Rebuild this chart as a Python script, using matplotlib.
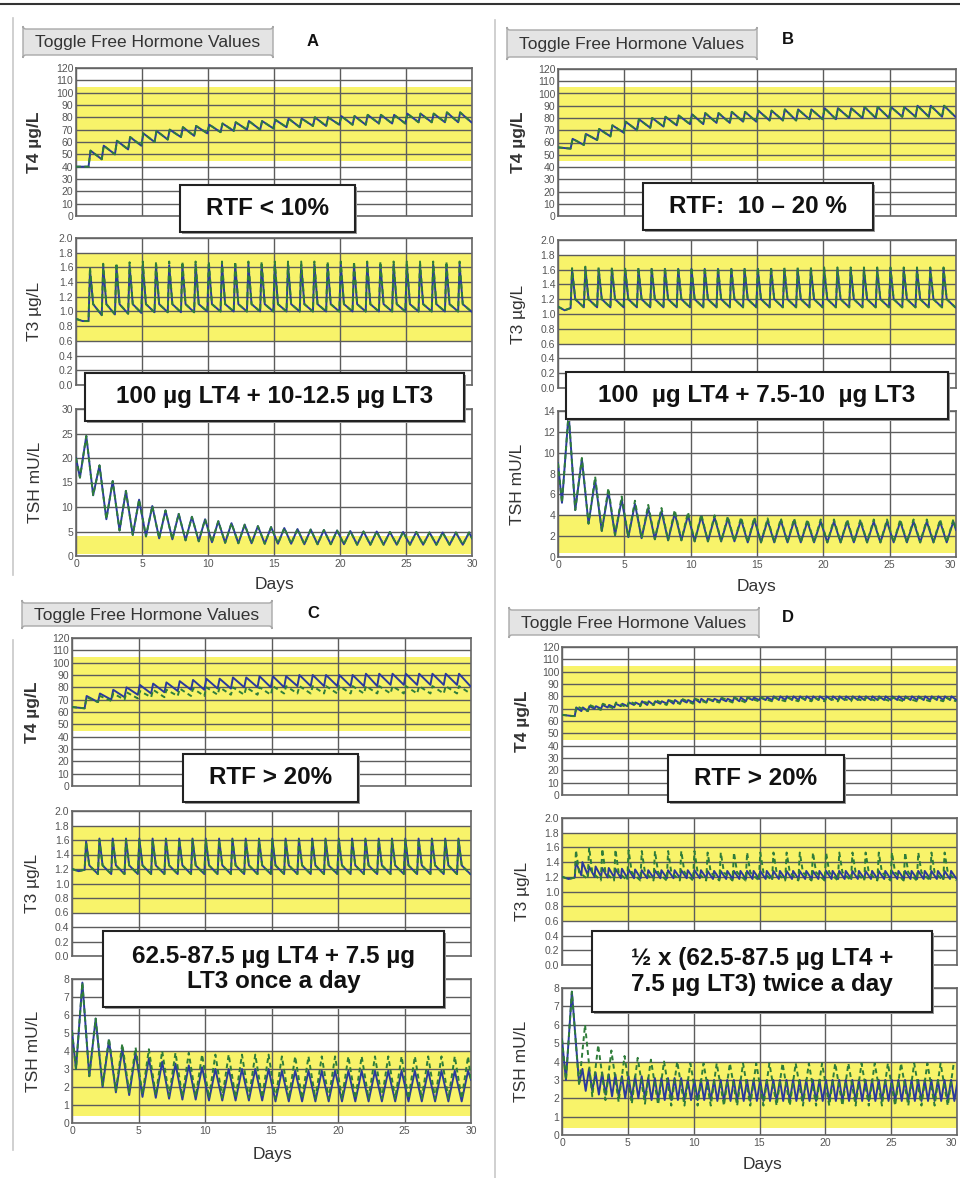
import numpy as np
import matplotlib
matplotlib.use("Agg")
import matplotlib.pyplot as plt
from matplotlib.patches import Rectangle, FancyBboxPatch
from matplotlib.lines import Line2D
from matplotlib.transforms import Affine2D

plt.rcParams['font.family'] = ['Liberation Sans', 'DejaVu Sans']

W, H = 960, 1178

# ---------------- datos ----------------
# Panel A  (T4 en ug/L, dosis diaria a partir del dia 1)
A_T4_start_t = [0, 0.95]
A_T4_start = [40, 40]
A_T4_peak = [53, 57, 61, 64, 67, 69, 70, 72, 73, 74, 75, 76, 77, 77, 78,
             79, 79, 80, 80, 81, 81, 82, 82, 82, 83, 83, 83, 84, 84]
A_T4_trough = [46, 50, 54, 57, 60, 62, 64, 65, 67, 68, 69, 70, 70, 71, 72,
               72, 73, 73, 74, 74, 74, 75, 75, 75, 76, 76, 76, 76, 76]

A_T3_start_t = [0, 0.5, 0.95]
A_T3_start = [0.90, 0.87, 0.87]
A_T3_peak = [1.56, 1.61, 1.62, 1.62] + [1.63] * 4 + [1.64] * 21
A_T3_peak_g = [1.60, 1.65, 1.66, 1.67] + [1.68] * 25
A_T3_mid = [1.10] * 29
A_T3_trough = [0.95, 0.96, 0.97, 0.98] + [0.99] * 4 + [1.00] * 21

A_TSH_start = [20.0]
A_TSH_peak = [24.5, 18.5, 15.3, 13.3, 11.5, 10.2, 9.3, 8.6, 8.0, 7.5,
              7.1, 6.7, 6.4, 6.1, 5.9, 5.7, 5.5, 5.4, 5.3, 5.2,
              5.1, 5.0, 5.0, 4.9, 4.9, 4.9, 4.8, 4.8, 4.8, 4.8]
A_TSH_trough = [16.0, 12.4, 7.5, 5.2, 4.3, 4.0, 3.6, 3.4, 3.2, 3.0,
                2.8, 2.7, 2.6, 2.6, 2.5, 2.5, 2.5, 2.4, 2.4, 2.4,
                2.4, 2.3, 2.3, 2.3, 2.3, 2.3, 2.3, 2.3, 2.3, 2.3]
A_TSH_end = 3.6

# Panel B
B_T4_start_t = [0, 0.95]
B_T4_start = [56, 55]
B_T4_peak = [63, 67, 71, 74, 77, 79, 80, 81, 82, 83, 84, 84, 85, 85, 86,
             86, 87, 87, 87, 88, 88, 88, 89, 89, 89, 89, 90, 90, 90]
B_T4_trough = [58, 62, 65, 68, 70, 72, 73, 74, 75, 75, 76, 76, 77, 77, 78,
               78, 78, 79, 79, 79, 80, 80, 80, 80, 81, 81, 81, 81, 81]

B_T3_start_t = [0, 0.5, 0.95]
B_T3_start = [1.10, 1.05, 1.08]
B_T3_peak = [1.60, 1.62] + [1.61] * 27
B_T3_peak_g = [1.62, 1.64] + [1.63] * 27
B_T3_mid = [1.20] * 29
B_T3_trough = [1.09] * 29

B_TSH_start = [9.0]
B_TSH_peak = [13.8, 9.4, 7.4, 6.3, 5.5, 5.1, 4.7, 4.4, 4.2, 4.0,
              3.9, 3.8, 3.7, 3.6, 3.6, 3.5, 3.5, 3.5, 3.4, 3.4] + [3.4] * 10
B_TSH_peak_g = [13.8, 9.5, 7.7, 6.6, 5.8, 5.4, 5.0, 4.7, 4.5, 4.3,
                4.1, 4.0, 3.9, 3.8, 3.8, 3.7, 3.7, 3.7, 3.6, 3.6] + [3.6] * 10
B_TSH_trough = [5.2, 4.5, 3.2, 2.5, 2.1, 1.9, 1.8, 1.7, 1.6, 1.6] + [1.5] * 4 + [1.4] * 16
B_TSH_end = 2.6

# Panel C
C_T4_start_t = [0, 0.95]
C_T4_start = [64, 63]
C_T4_peak = [73, 75, 78, 80, 82, 83, 84, 85, 86, 87, 87, 88, 88, 89, 89,
             89, 90, 90, 90, 90, 90, 91, 91, 91, 91, 91, 91, 91, 91]
C_T4_trough = [68, 70, 72, 74, 75, 76, 77, 78, 78, 79, 79, 80, 80, 80, 80,
               81, 81, 81, 81, 81, 81, 81, 82, 82, 82, 82, 82, 82, 81]
C_T4_peak_g = [72, 73, 75, 76, 77, 78, 78, 79, 79] + [80] * 5 + [81] * 15
C_T4_trough_g = [68, 69, 70, 71, 72, 72, 73, 73, 73] + [74] * 5 + [75] * 15

C_T3_start_t = [0, 0.5, 0.95]
C_T3_start = [1.20, 1.17, 1.19]
C_T3_peak = [1.58] + [1.62] * 28
C_T3_peak_g = [1.57] + [1.60] * 28
C_T3_mid = [1.25] * 29
C_T3_trough = [1.13] * 29

C_TSH_start = [5.1]
C_TSH_peak = [7.8, 5.8, 4.6, 4.1, 3.9, 3.6, 3.4, 3.3, 3.2, 3.1] + [3.0] * 5 + [2.9] * 15
C_TSH_trough = [3.0, 2.6, 2.0, 1.7, 1.55, 1.45, 1.4, 1.35, 1.3, 1.3] + [1.25] * 5 + [1.2] * 15
C_TSH_peak_g = [7.8, 5.8, 4.7, 4.4, 4.2, 4.1, 4.0, 3.9, 3.9, 3.8] + [3.8] * 5 + [3.7] * 15
C_TSH_trough_g = [3.0, 2.6, 2.1, 1.8, 1.7, 1.6, 1.55, 1.5, 1.45, 1.45] + [1.4] * 5 + [1.35] * 15
C_TSH_end = 2.4

# Panel D (azul: dos tomas al dia, verde: una toma al dia)
D_T4_start_t = [0, 0.8, 0.97]
D_T4_start = [65, 64, 64]
D_T4_peak = [71, 72, 73, 74, 75, 76, 76, 77, 77, 78, 78, 78, 79, 79, 79] + [80] * 14
D_T4_trough = [68, 70, 71, 72, 73, 73, 74, 74, 75, 75, 76, 76, 76, 77, 77] + [77] * 14
D_T4_peak_g = [72, 73, 74, 75, 76, 76, 77, 77, 78, 78, 78, 79, 79, 79, 79] + [79] * 14
D_T4_trough_g = [68, 69, 70, 71, 72, 73, 73, 74, 74, 75, 75, 75, 75, 76, 76] + [76] * 14

D_T3_start_t = [0, 0.5, 0.97]
D_T3_start = [1.20, 1.17, 1.19]
D_T3_peak = [1.40, 1.34, 1.32, 1.31, 1.30] + [1.29] * 5 + [1.28] * 19
D_T3_trough = [1.22, 1.20, 1.19] + [1.18] * 7 + [1.17] * 19
D_T3_peak_g = [1.56, 1.60, 1.58, 1.57, 1.56] + [1.55] * 5 + [1.53] * 19
D_T3_mid_g = [1.26] * 29
D_T3_trough_g = [1.17] + [1.15] * 28

D_TSH_start_t = [0, 0.3, 0.75, 1.3]
D_TSH_start = [5.2, 3.0, 7.8, 2.8]
D_TSH_peak = [3.6, 3.4, 3.3, 3.2, 3.2, 3.1, 3.1, 3.1, 3.0, 3.0] + [3.0] * 19
D_TSH_trough = [2.4, 2.2, 2.1, 2.0, 2.0, 1.9, 1.9, 1.9, 1.9, 1.9] + [1.85] * 19
D_TSH_peak_g = [7.8, 6.0, 4.9, 4.6, 4.3, 4.2, 4.1, 4.0, 4.0, 3.9] + [3.9] * 20
D_TSH_trough_g = [3.0, 2.7, 2.1, 1.9, 1.8, 1.7, 1.7, 1.65, 1.6, 1.6] + [1.6] * 20

# rangos normales (franja amarilla)
T4_band = (45, 105)
T3_band = (0.6, 1.8)
TSH_band = (0.4, 4.0)

# ---------------- estilo ----------------
YELLOW = '#f8f36a'
BLUE = '#2b3a9c'
GREEN = '#2f7d3a'
GRID = '#5c5c5c'

fig = plt.figure(figsize=(9.6, 11.78), dpi=100)
# coordenadas en pixeles con origen arriba a la izquierda
PX = Affine2D().scale(0.01, -0.01).translate(0, H * 0.01) + fig.dpi_scale_trans


def build(start_t, start_v, first_day, parts, end=None):
    # une los puntos leidos (picos / valles) dia a dia
    t = list(start_t)
    v = list(start_v)
    for i in range(len(parts[0][1])):
        for off, vals in parts:
            t.append(first_day + i + off)
            v.append(vals[i])
    if end is not None:
        t.append(30)
        v.append(end)
    return t, v


def make_axes(l, t, r, b, ylim, ystep, band, fmt, show_x=False, edge=False):
    ax = fig.add_axes([l / W, 1 - b / H, (r - l) / W, (b - t) / H])
    ax.set_xlim(0, 30)
    ax.set_ylim(*ylim)
    ax.axhspan(band[0], band[1], color=YELLOW, lw=0, zorder=0)
    ticks = np.arange(ylim[0], ylim[1] + ystep / 2, ystep)
    ax.set_yticks(ticks)
    ax.set_yticklabels([fmt.format(v) for v in ticks])
    ax.set_xticks(range(0, 31, 5))
    ax.grid(True, color=GRID, lw=1.0)
    ax.set_axisbelow(True)
    ax.tick_params(length=0, labelsize=7.5, labelcolor='#555555', pad=2,
                   labelbottom=show_x)
    if edge:
        # el ultimo "30" queda pegado al borde de la imagen
        ax.get_xticklabels()[-1].set_ha('right')
    for s in ax.spines.values():
        s.set_color('#666666')
        s.set_linewidth(1.2)
    return ax


def draw(ax, blue, green):
    ax.plot(*blue, color=BLUE, lw=1.4, zorder=3)
    ax.plot(*green, color=GREEN, lw=1.4, ls=(0, (2.5, 1.8)), zorder=4)


def text_box(x0, y0, x1, y1, label):
    fig.add_artist(Rectangle((x0 + 2, y1 + 2), x1 - x0, y0 - y1, transform=PX,
                             fc='#9a9a9a', ec='none', zorder=5))
    fig.add_artist(Rectangle((x0, y1), x1 - x0, y0 - y1, transform=PX,
                             fc='white', ec='#222222', lw=1.5, zorder=6))
    fig.text((x0 + x1) / 2, (y0 + y1) / 2, label, transform=PX, ha='center',
             va='center', fontsize=17.5, fontweight='bold', color='#111111',
             linespacing=1.15, zorder=7)


def button(x0, y0, x1, y1, letter, lx, ly):
    fig.add_artist(FancyBboxPatch((x0, y1), x1 - x0, y0 - y1, transform=PX,
                                  boxstyle='round,pad=0,rounding_size=3',
                                  fc='#e4e4e4', ec='#a8a8a8', lw=1.0, zorder=5))
    fig.text((x0 + x1) / 2, (y0 + y1) / 2 + 1, 'Toggle Free Hormone Values',
             transform=PX, ha='center', va='center', fontsize=12.5,
             color='#333333', zorder=6)
    fig.text(lx, ly, letter, transform=PX, ha='center', va='center',
             fontsize=12, fontweight='bold', color='#111111')


def ylabels(x, centers, bold_first=True):
    names = ['T4 µg/L', 'T3 µg/L', 'TSH mU/L']
    for i, (n, c) in enumerate(zip(names, centers)):
        fig.text(x, c, n, transform=PX, rotation=90, ha='center', va='center',
                 fontsize=12.5, color='#333333',
                 fontweight='bold' if (i == 0 and bold_first) else 'normal')


# ---------------- marco general ----------------
fig.add_artist(Line2D([0, W], [4, 4], transform=PX, color='#333333', lw=1.5))
fig.add_artist(Line2D([13, 13], [18, 575], transform=PX, color='#c8c8c8', lw=1.2))
fig.add_artist(Line2D([495, 495], [20, 1178], transform=PX, color='#c8c8c8', lw=1.2))
fig.add_artist(Line2D([13, 13], [640, 1150], transform=PX, color='#c8c8c8', lw=1.2))

# ---------------- Panel A ----------------
ax = make_axes(76, 68, 472, 216, (0, 120), 10, T4_band, '{:.0f}')
s = build(A_T4_start_t, A_T4_start, 1, [(0.1, A_T4_peak), (0.95, A_T4_trough)])
draw(ax, s, s)
ax = make_axes(76, 238, 472, 385, (0, 2.0), 0.2, T3_band, '{:.1f}')
draw(ax, build(A_T3_start_t, A_T3_start, 1, [(0.06, A_T3_peak), (0.3, A_T3_mid), (0.95, A_T3_trough)]),
     build(A_T3_start_t, A_T3_start, 1, [(0.06, A_T3_peak_g), (0.3, A_T3_mid), (0.95, A_T3_trough)]))
ax = make_axes(76, 409, 472, 556, (0, 30), 5, TSH_band, '{:.0f}', show_x=True)
s = build([0], A_TSH_start, 0, [(0.3, A_TSH_trough), (0.78, A_TSH_peak)], A_TSH_end)
draw(ax, s, s)
ylabels(35, [142, 311, 482])
fig.text(274, 585, 'Days', transform=PX, ha='center', va='center', fontsize=12.5, color='#333333')
button(23, 29, 273, 55, 'A', 313, 42)
text_box(180, 185, 355, 232, 'RTF < 10%')
text_box(85, 373, 464, 421, '100 µg LT4 + 10-12.5 µg LT3')

# ---------------- Panel B ----------------
ax = make_axes(558, 69, 956, 216, (0, 120), 10, T4_band, '{:.0f}')
s = build(B_T4_start_t, B_T4_start, 1, [(0.1, B_T4_peak), (0.95, B_T4_trough)])
draw(ax, s, s)
ax = make_axes(558, 240, 956, 388, (0, 2.0), 0.2, T3_band, '{:.1f}')
draw(ax, build(B_T3_start_t, B_T3_start, 1, [(0.06, B_T3_peak), (0.3, B_T3_mid), (0.95, B_T3_trough)]),
     build(B_T3_start_t, B_T3_start, 1, [(0.06, B_T3_peak_g), (0.3, B_T3_mid), (0.95, B_T3_trough)]))
ax = make_axes(558, 411, 956, 557, (0, 14), 2, TSH_band, '{:.0f}', show_x=True, edge=True)
draw(ax, build([0], B_TSH_start, 0, [(0.3, B_TSH_trough), (0.8, B_TSH_peak)], B_TSH_end),
     build([0], B_TSH_start, 0, [(0.3, B_TSH_trough), (0.8, B_TSH_peak_g)], B_TSH_end))
ylabels(518, [142, 314, 484])
fig.text(757, 587, 'Days', transform=PX, ha='center', va='center', fontsize=12.5, color='#333333')
button(507, 30, 757, 57, 'B', 788, 40)
text_box(643, 183, 873, 230, 'RTF:  10 – 20 %')
text_box(566, 372, 948, 419, '100  µg LT4 + 7.5-10  µg LT3')

# ---------------- Panel C ----------------
ax = make_axes(72, 638, 471, 786, (0, 120), 10, T4_band, '{:.0f}')
draw(ax, build(C_T4_start_t, C_T4_start, 1, [(0.1, C_T4_peak), (0.95, C_T4_trough)]),
     build(C_T4_start_t, C_T4_start, 1, [(0.1, C_T4_peak_g), (0.95, C_T4_trough_g)]))
ax = make_axes(72, 811, 471, 956, (0, 2.0), 0.2, T3_band, '{:.1f}')
draw(ax, build(C_T3_start_t, C_T3_start, 1, [(0.06, C_T3_peak), (0.3, C_T3_mid), (0.95, C_T3_trough)]),
     build(C_T3_start_t, C_T3_start, 1, [(0.06, C_T3_peak_g), (0.3, C_T3_mid), (0.95, C_T3_trough)]))
ax = make_axes(72, 979, 471, 1123, (0, 8), 1, TSH_band, '{:.0f}', show_x=True)
draw(ax, build([0], C_TSH_start, 0, [(0.3, C_TSH_trough), (0.78, C_TSH_peak)], C_TSH_end),
     build([0], C_TSH_start, 0, [(0.3, C_TSH_trough_g), (0.78, C_TSH_peak_g)], C_TSH_end))
ylabels(33, [712, 883, 1051])
fig.text(272, 1155, 'Days', transform=PX, ha='center', va='center', fontsize=12.5, color='#333333')
button(22, 603, 272, 626, 'C', 313, 614)
text_box(183, 754, 358, 802, 'RTF > 20%')
text_box(103, 931, 444, 1007, '62.5-87.5 µg LT4 + 7.5 µg\nLT3 once a day')

# ---------------- Panel D ----------------
ax = make_axes(562, 647, 957, 795, (0, 120), 10, T4_band, '{:.0f}')
draw(ax, build(D_T4_start_t, D_T4_start, 1, [(0.08, D_T4_peak), (0.47, D_T4_trough),
                                              (0.58, D_T4_peak), (0.97, D_T4_trough)]),
     build(D_T4_start_t, D_T4_start, 1, [(0.1, D_T4_peak_g), (0.95, D_T4_trough_g)]))
ax = make_axes(562, 818, 957, 965, (0, 2.0), 0.2, T3_band, '{:.1f}')
draw(ax, build(D_T3_start_t, D_T3_start, 1, [(0.05, D_T3_peak), (0.47, D_T3_trough),
                                              (0.55, D_T3_peak), (0.97, D_T3_trough)]),
     build(D_T3_start_t, D_T3_start, 1, [(0.06, D_T3_peak_g), (0.3, D_T3_mid_g), (0.95, D_T3_trough_g)]))
ax = make_axes(562, 988, 957, 1135, (0, 8), 1, TSH_band, '{:.0f}', show_x=True, edge=True)
draw(ax, build(D_TSH_start_t, D_TSH_start, 1, [(0.55, D_TSH_peak), (0.8, D_TSH_trough),
                                                (1.05, D_TSH_peak), (1.3, D_TSH_trough)]),
     build([0], [5.2], 0, [(0.3, D_TSH_trough_g), (0.75, D_TSH_peak_g)]))
ylabels(522, [721, 891, 1061])
fig.text(762, 1165, 'Days', transform=PX, ha='center', va='center', fontsize=12.5, color='#333333')
button(509, 610, 759, 635, 'D', 788, 617)
text_box(668, 755, 844, 802, 'RTF > 20%')
text_box(592, 931, 932, 1012, '½ x (62.5-87.5 µg LT4 +\n7.5 µg LT3) twice a day')

fig.savefig('out.png', dpi=100)
